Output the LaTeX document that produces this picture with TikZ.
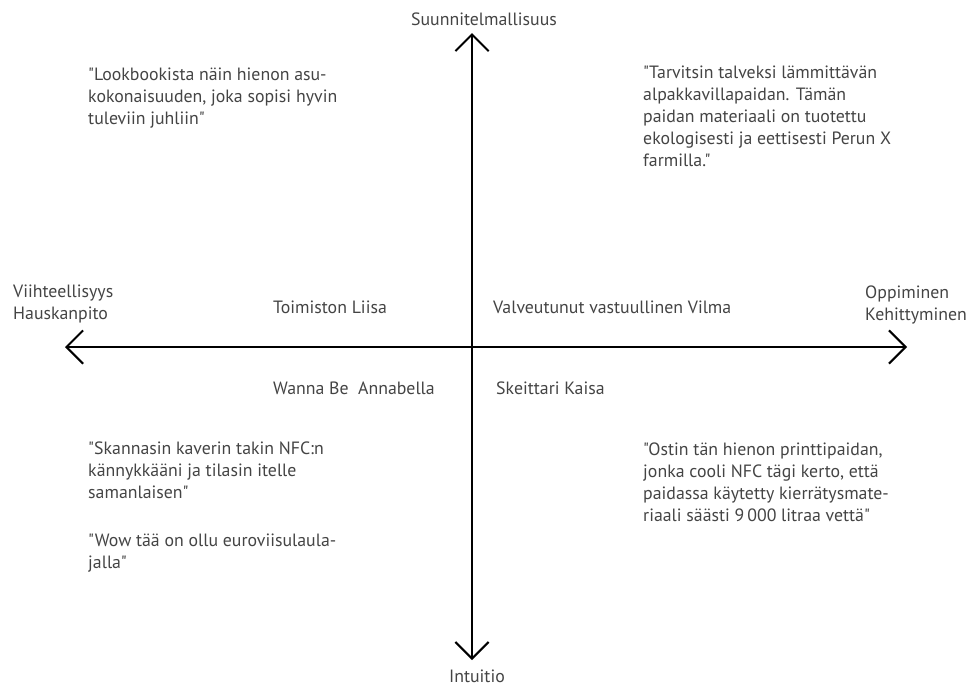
\documentclass[tikz,border=0pt]{standalone}
\usepackage{fontspec}
\setmainfont{PT Sans}[Ligatures=TeXOff]
\usepackage{xcolor}
\definecolor{txtgray}{RGB}{68,68,68}
\usetikzlibrary{arrows.meta,positioning}

\begin{document}
\begin{tikzpicture}[x=0.03cm, y=-0.03cm,
  every node/.style={inner sep=0pt, text=txtgray, font=\fontsize{15.2}{18.6}\selectfont},
  quote/.style={anchor=north west, align=left},
  persona/.style={anchor=base west},
  axislabel/.style={anchor=north west, align=left},
  axisline/.style={line width=1.7pt, {Straight Barb[length=5mm, width=10mm]}-{Straight Barb[length=5mm, width=10mm]}}]

\useasboundingbox (0,0) rectangle (977,686);

% === Axes ===
\coordinate (left) at (65,347);
\coordinate (right) at (907,347);
\coordinate (top) at (472,33);
\coordinate (bottom) at (472,660);
\draw[axisline] (left) -- (right);
\draw[axisline] (top) -- (bottom);

% === Axis labels ===
\node[anchor=base] (plan) at (484,25) {Suunnitelmallisuus};
\node[anchor=base] (intuit) at (477,682) {Intuitio};
\node[axislabel] (fun) at (13,285) {Viihteellisyys\\Hauskanpito};
\node[axislabel] (learn) at (865,286) {Oppiminen\\Kehittyminen};

% === Personas ===
\node[persona] (liisa) at (273,313) {Toimiston Liisa};
\node[persona] (vilma) at (493,313) {Valveutunut vastuullinen Vilma};
\node[persona] (annabella) at (273,394) {Wanna Be\ \ Annabella};
\node[persona] (kaisa) at (496,394) {Skeittari Kaisa};

% === Quotes ===
\node[quote] (q1) at (88,68)
     {"Lookbookista näin hienon asu-\\kokonaisuuden, joka sopisi hyvin\\tuleviin juhliin"};
\node[quote] (q2) at (643,66)
     {"Tarvitsin talveksi lämmittävän\\alpakkavillapaidan. Tämän\\paidan materiaali on tuotettu\\ekologisesti ja eettisesti Perun X\\farmilla."};
\node[quote] (q3) at (88,442)
     {"Skannasin kaverin takin NFC:n\\kännykkääni ja tilasin itelle\\samanlaisen"};
\node[quote] (q4) at (88,534)
     {"Wow tää on ollu euroviisulaula-\\jalla"};
\node[quote] (q5) at (643,443)
     {"Ostin tän hienon printtipaidan,\\jonka cooli NFC tägi kerto, että\\paidassa käytetty kierrätysmate-\\riaali säästi 9\,000 litraa vettä"};

\end{tikzpicture}
\end{document}
